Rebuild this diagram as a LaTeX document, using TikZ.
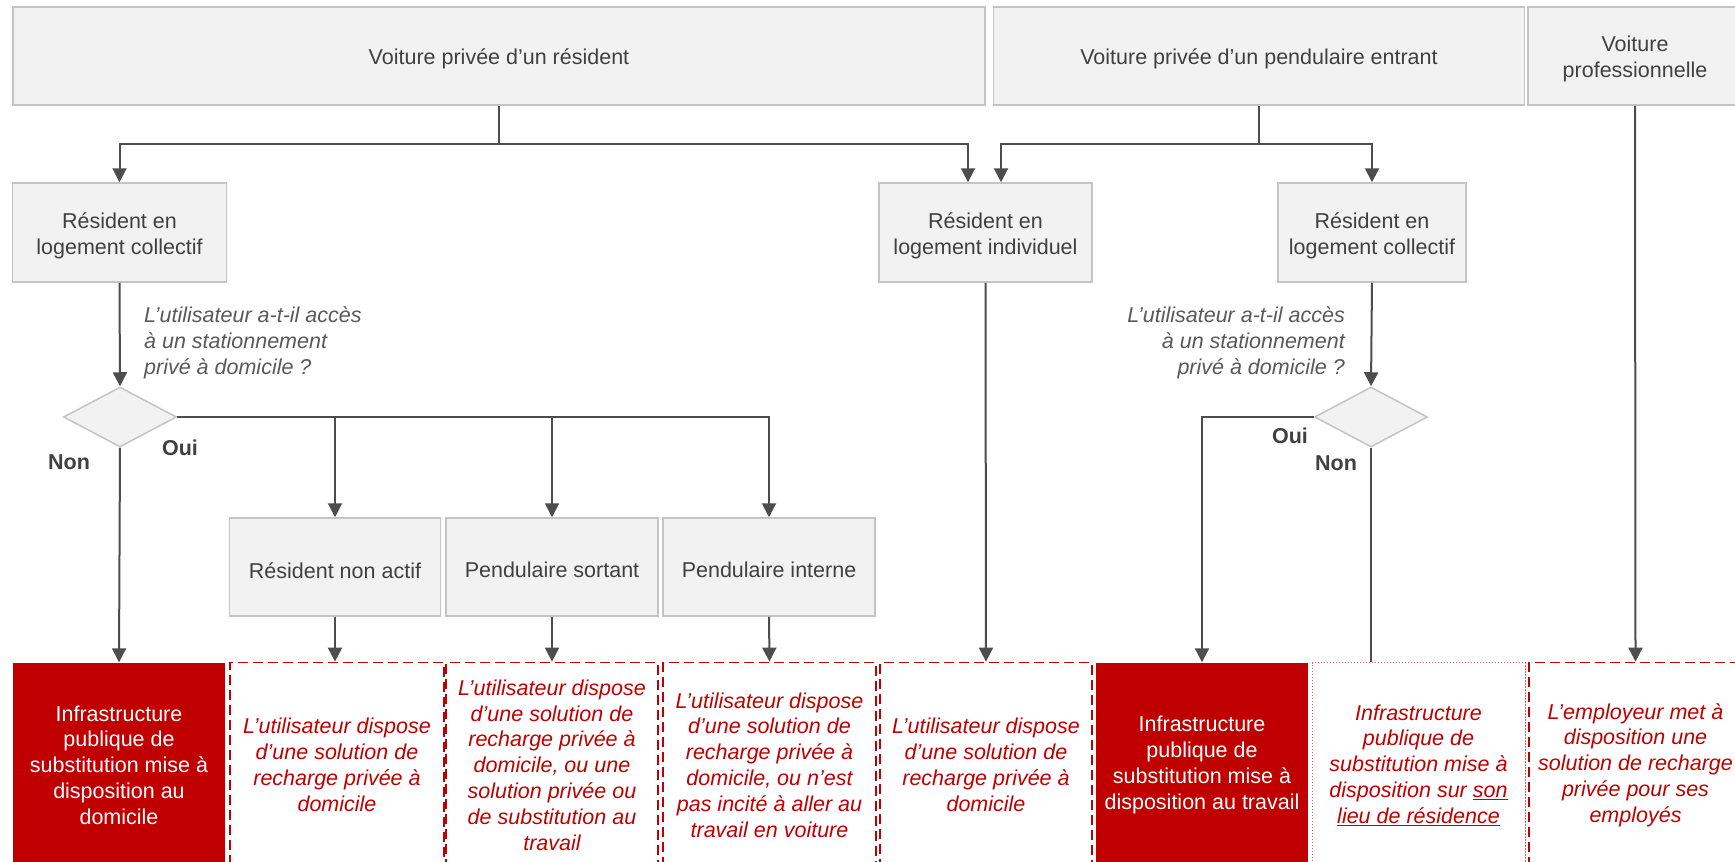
\documentclass[tikz,border=0pt]{standalone}
\usepackage{fontspec}
\setmainfont{Liberation Sans}
\usetikzlibrary{arrows.meta,shapes.geometric,calc}
\definecolor{boxfill}{HTML}{F2F2F2}
\definecolor{boxline}{HTML}{C4C4C4}
\definecolor{txtgray}{HTML}{404040}
\definecolor{qgray}{HTML}{595959}
\definecolor{conncol}{HTML}{4D4D4D}
\definecolor{rouge}{HTML}{C00000}
\begin{document}
\begin{tikzpicture}[x=1pt,y=-1pt,
  every node/.style={font=\fontsize{21.5}{25.8}\selectfont, inner sep=0pt},
  graybox/.style={draw=boxline, fill=boxfill, line width=1.5pt},
  glabel/.style={text=txtgray, align=center, yshift=-3.3pt},
  redfill/.style={fill=rouge, text=white, align=center, minimum height=205pt},
  reddash/.style={draw=rouge, line width=1.8pt, dash pattern=on 10pt off 5pt, text=rouge, align=center, minimum height=205pt, font=\fontsize{21.5}{25.8}\selectfont\itshape},
  reddot/.style={draw=rouge!60, line width=0.9pt, dash pattern=on 1.5pt off 1.5pt, text=rouge, align=center, minimum height=205pt, font=\fontsize{21.5}{25.8}\selectfont\itshape},
  decision/.style={diamond, draw=boxline, fill=boxfill, line width=1.5pt, minimum width=113pt, minimum height=60pt},
  question/.style={text=qgray, font=\fontsize{21.5}{25.8}\selectfont\itshape},
  answer/.style={text=txtgray, font=\fontsize{21.5}{25.8}\selectfont\bfseries},
  link/.style={draw=conncol, line width=2pt},
  arr/.style={link, -{Triangle[length=14pt,width=14pt]}}
]
\useasboundingbox[fill=white] (0,0) rectangle (1735,862);

% top row
\node[graybox, minimum width=972pt, minimum height=98pt, label={[glabel]center:Voiture privée d’un résident}] (v1) at (499,56) {};
\node[graybox, minimum width=531pt, minimum height=98pt, label={[glabel]center:Voiture privée d’un pendulaire entrant}] (v2) at (1259,56) {};
\node[graybox, minimum width=214pt, minimum height=98pt, label={[glabel]center:Voiture\\professionnelle}] (v3) at (1635,56) {};

% second row
\node[graybox, minimum width=214pt, minimum height=99pt, label={[glabel]center:Résident en\\logement collectif}] (c1) at (119.5,232.5) {};
\node[graybox, minimum width=213pt, minimum height=99pt, label={[glabel]center:Résident en\\logement individuel}] (ind) at (985.5,232.5) {};
\node[graybox, minimum width=188pt, minimum height=99pt, label={[glabel]center:Résident en\\logement collectif}] (c2) at (1372,232.5) {};

% decisions
\node[decision] (d1) at (120,417) {};
\node[decision] (d2) at (1371,417) {};

\node[question, anchor=west, align=left] (q1) at (144,343) {L’utilisateur a-t-il accès\\à un stationnement\\privé à domicile ?};
\node[question, anchor=east, align=right] (q2) at (1345,343) {L’utilisateur a-t-il accès\\à un stationnement\\privé à domicile ?};
\node[answer] (oui1) at (180,448) {Oui};
\node[answer] (non1) at (69,462) {Non};
\node[answer] (oui2) at (1290,436) {Oui};
\node[answer] (non2) at (1336,463) {Non};

% third row
\node[graybox, minimum width=211pt, minimum height=98pt, label={[glabel]center:Résident non actif}] (rna) at (335,567) {};
\node[graybox, minimum width=212pt, minimum height=98pt, label={[glabel]center:Pendulaire sortant}] (ps) at (552,567) {};
\node[graybox, minimum width=212pt, minimum height=98pt, label={[glabel]center:Pendulaire interne}] (pint) at (769,567) {};

% bottom row
\node[redfill, minimum width=212pt] (A) at (119,765) {Infrastructure\\publique de\\substitution mise à\\disposition au\\domicile};
\node[reddash, minimum width=214pt] (B) at (337,765) {L’utilisateur dispose\\d’une solution de\\recharge privée à\\domicile};
\node[reddash, minimum width=212pt] (C) at (552,765) {L’utilisateur dispose\\d’une solution de\\recharge privée à\\domicile, ou une\\solution privée ou\\de substitution au\\travail};
\node[reddash, minimum width=213pt] (D) at (769.5,765) {L’utilisateur dispose\\d’une solution de\\recharge privée à\\domicile, ou n’est\\pas incité à aller au\\travail en voiture};
\node[reddash, minimum width=212pt] (E) at (986,765) {L’utilisateur dispose\\d’une solution de\\recharge privée à\\domicile};
\node[redfill, minimum width=212pt] (F) at (1202,765) {Infrastructure\\publique de\\substitution mise à\\disposition au travail};
\node[reddot, minimum width=213pt] (G) at (1418.5,765) {Infrastructure\\publique de\\substitution mise à\\disposition sur \underline{son}\\\underline{lieu de résidence}};
\node[reddash, minimum width=213pt] (H) at (1635.5,765) {L’employeur met à\\disposition une\\solution de recharge\\privée pour ses\\employés};

% connectors
\coordinate (h1) at (0,144);
\draw[link] (v1.south) -- (v1.south |- h1);
\draw[arr] (v1.south |- h1) -| (c1.north);
\draw[arr] (v1.south |- h1) -| ([xshift=-17.5pt]ind.north);
\draw[link] (v2.south) -- (v2.south |- h1);
\draw[arr] (v2.south |- h1) -| ([xshift=15.5pt]ind.north);
\draw[arr] (v2.south |- h1) -| (c2.north);
\draw[arr] (v3.south) -- (H.north);
\draw[arr] (c1.south) -- (d1.north);
\draw[arr] (d1.south) -- (A.north);
\draw[arr] (d1.east) -| (pint.north);
\draw[arr] (d1.east -| rna.north) -- (rna.north);
\draw[arr] (d1.east -| ps.north) -- (ps.north);
\draw[arr] (rna.south) -- (rna.south |- B.north);
\draw[arr] (ps.south) -- (C.north);
\draw[arr] (pint.south) -- (D.north);
\draw[arr] (ind.south) -- (E.north);
\draw[arr] (c2.south) -- (d2.north);
\draw[arr] (d2.west) -| (F.north);
\draw[link] (d2.south) -- (d2.south |- G.north);
\end{tikzpicture}
\end{document}
